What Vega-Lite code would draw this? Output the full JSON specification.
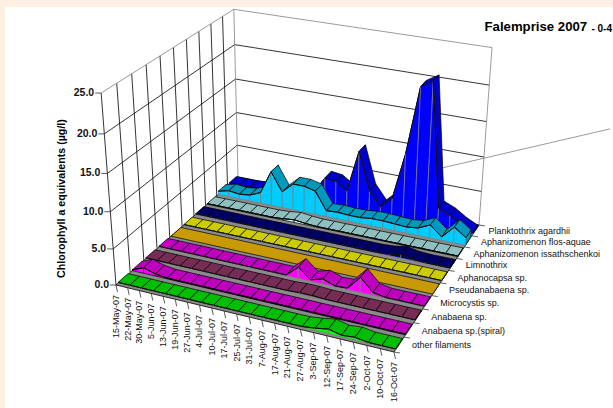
{
"$schema":"https://vega.github.io/schema/vega-lite/v6.json",
"width":608,"height":401,"autosize":{"type":"none"},"padding":{"left":5,"top":7,"right":0,"bottom":0},
"background":"#FDEFE2","view":{"fill":"#ffffff","stroke":null},
"title":{"text":"- 0-4","anchor":"end","frame":"group","offset":-27,"dx":-1,"font":"Liberation Sans","fontSize":10,"fontWeight":"bold","color":"#000000"},
"datasets":{
"rows":[
{"date":"15-May-07","idx":0,"slot":9,"value":0.3},{"date":"22-May-07","idx":1,"slot":9,"value":0.3},{"date":"30-May-07","idx":2,"slot":9,"value":0.3},{"date":"5-Jun-07","idx":3,"slot":9,"value":0.4},{"date":"13-Jun-07","idx":4,"slot":9,"value":0.4},{"date":"19-Jun-07","idx":5,"slot":9,"value":0.5},{"date":"27-Jun-07","idx":6,"slot":9,"value":0.5},{"date":"4-Jul-07","idx":7,"slot":9,"value":0.6},{"date":"10-Jul-07","idx":8,"slot":9,"value":1.5},{"date":"17-Jul-07","idx":9,"slot":9,"value":4.0},{"date":"25-Jul-07","idx":10,"slot":9,"value":3.8},{"date":"31-Jul-07","idx":11,"slot":9,"value":2.7},{"date":"7-Aug-07","idx":12,"slot":9,"value":8.9},{"date":"17-Aug-07","idx":13,"slot":9,"value":3.4},{"date":"21-Aug-07","idx":14,"slot":9,"value":1.3},{"date":"27-Aug-07","idx":15,"slot":9,"value":2.9},{"date":"3-Sep-07","idx":16,"slot":9,"value":9.8},{"date":"12-Sep-07","idx":17,"slot":9,"value":19.5},{"date":"17-Sep-07","idx":18,"slot":9,"value":20.5},{"date":"24-Sep-07","idx":19,"slot":9,"value":2.8},{"date":"2-Oct-07","idx":20,"slot":9,"value":2.1},{"date":"10-Oct-07","idx":21,"slot":9,"value":1.0},{"date":"16-Oct-07","idx":22,"slot":9,"value":0.2},
{"date":"15-May-07","idx":0,"slot":8,"value":0.5},{"date":"22-May-07","idx":1,"slot":8,"value":0.9},{"date":"30-May-07","idx":2,"slot":8,"value":0.7},{"date":"5-Jun-07","idx":3,"slot":8,"value":0.9},{"date":"13-Jun-07","idx":4,"slot":8,"value":1.6},{"date":"19-Jun-07","idx":5,"slot":8,"value":5.1},{"date":"27-Jun-07","idx":6,"slot":8,"value":2.4},{"date":"4-Jul-07","idx":7,"slot":8,"value":3.9},{"date":"10-Jul-07","idx":8,"slot":8,"value":3.9},{"date":"17-Jul-07","idx":9,"slot":8,"value":3.5},{"date":"25-Jul-07","idx":10,"slot":8,"value":0.9},{"date":"31-Jul-07","idx":11,"slot":8,"value":1.0},{"date":"7-Aug-07","idx":12,"slot":8,"value":0.9},{"date":"17-Aug-07","idx":13,"slot":8,"value":0.9},{"date":"21-Aug-07","idx":14,"slot":8,"value":1.1},{"date":"27-Aug-07","idx":15,"slot":8,"value":1.1},{"date":"3-Sep-07","idx":16,"slot":8,"value":1.0},{"date":"12-Sep-07","idx":17,"slot":8,"value":0.9},{"date":"17-Sep-07","idx":18,"slot":8,"value":1.1},{"date":"24-Sep-07","idx":19,"slot":8,"value":1.9},{"date":"2-Oct-07","idx":20,"slot":8,"value":0.5},{"date":"10-Oct-07","idx":21,"slot":8,"value":2.3},{"date":"16-Oct-07","idx":22,"slot":8,"value":1.1},
{"date":"15-May-07","idx":0,"slot":7,"value":0.1},{"date":"22-May-07","idx":1,"slot":7,"value":0.1},{"date":"30-May-07","idx":2,"slot":7,"value":0.1},{"date":"5-Jun-07","idx":3,"slot":7,"value":0.1},{"date":"13-Jun-07","idx":4,"slot":7,"value":0.1},{"date":"19-Jun-07","idx":5,"slot":7,"value":0.1},{"date":"27-Jun-07","idx":6,"slot":7,"value":0.1},{"date":"4-Jul-07","idx":7,"slot":7,"value":0.2},{"date":"10-Jul-07","idx":8,"slot":7,"value":0.4},{"date":"17-Jul-07","idx":9,"slot":7,"value":0.2},{"date":"25-Jul-07","idx":10,"slot":7,"value":0.1},{"date":"31-Jul-07","idx":11,"slot":7,"value":0.1},{"date":"7-Aug-07","idx":12,"slot":7,"value":0.1},{"date":"17-Aug-07","idx":13,"slot":7,"value":0.1},{"date":"21-Aug-07","idx":14,"slot":7,"value":0.1},{"date":"27-Aug-07","idx":15,"slot":7,"value":0.1},{"date":"3-Sep-07","idx":16,"slot":7,"value":0.1},{"date":"12-Sep-07","idx":17,"slot":7,"value":0.1},{"date":"17-Sep-07","idx":18,"slot":7,"value":0.1},{"date":"24-Sep-07","idx":19,"slot":7,"value":0.1},{"date":"2-Oct-07","idx":20,"slot":7,"value":0.1},{"date":"10-Oct-07","idx":21,"slot":7,"value":0.1},{"date":"16-Oct-07","idx":22,"slot":7,"value":0.1},
{"date":"15-May-07","idx":0,"slot":6,"value":0.1},{"date":"22-May-07","idx":1,"slot":6,"value":0.1},{"date":"30-May-07","idx":2,"slot":6,"value":0.1},{"date":"5-Jun-07","idx":3,"slot":6,"value":0.1},{"date":"13-Jun-07","idx":4,"slot":6,"value":0.1},{"date":"19-Jun-07","idx":5,"slot":6,"value":0.1},{"date":"27-Jun-07","idx":6,"slot":6,"value":0.1},{"date":"4-Jul-07","idx":7,"slot":6,"value":0.1},{"date":"10-Jul-07","idx":8,"slot":6,"value":0.1},{"date":"17-Jul-07","idx":9,"slot":6,"value":0.1},{"date":"25-Jul-07","idx":10,"slot":6,"value":0.1},{"date":"31-Jul-07","idx":11,"slot":6,"value":0.1},{"date":"7-Aug-07","idx":12,"slot":6,"value":0.1},{"date":"17-Aug-07","idx":13,"slot":6,"value":0.1},{"date":"21-Aug-07","idx":14,"slot":6,"value":0.1},{"date":"27-Aug-07","idx":15,"slot":6,"value":0.1},{"date":"3-Sep-07","idx":16,"slot":6,"value":0.1},{"date":"12-Sep-07","idx":17,"slot":6,"value":0.2},{"date":"17-Sep-07","idx":18,"slot":6,"value":0.5},{"date":"24-Sep-07","idx":19,"slot":6,"value":0.2},{"date":"2-Oct-07","idx":20,"slot":6,"value":0.1},{"date":"10-Oct-07","idx":21,"slot":6,"value":0.1},{"date":"16-Oct-07","idx":22,"slot":6,"value":0.1},
{"date":"15-May-07","idx":0,"slot":5,"value":0.05},{"date":"22-May-07","idx":1,"slot":5,"value":0.05},{"date":"30-May-07","idx":2,"slot":5,"value":0.05},{"date":"5-Jun-07","idx":3,"slot":5,"value":0.05},{"date":"13-Jun-07","idx":4,"slot":5,"value":0.05},{"date":"19-Jun-07","idx":5,"slot":5,"value":0.05},{"date":"27-Jun-07","idx":6,"slot":5,"value":0.05},{"date":"4-Jul-07","idx":7,"slot":5,"value":0.05},{"date":"10-Jul-07","idx":8,"slot":5,"value":0.05},{"date":"17-Jul-07","idx":9,"slot":5,"value":0.05},{"date":"25-Jul-07","idx":10,"slot":5,"value":0.05},{"date":"31-Jul-07","idx":11,"slot":5,"value":0.05},{"date":"7-Aug-07","idx":12,"slot":5,"value":0.05},{"date":"17-Aug-07","idx":13,"slot":5,"value":0.05},{"date":"21-Aug-07","idx":14,"slot":5,"value":0.05},{"date":"27-Aug-07","idx":15,"slot":5,"value":0.05},{"date":"3-Sep-07","idx":16,"slot":5,"value":0.05},{"date":"12-Sep-07","idx":17,"slot":5,"value":0.05},{"date":"17-Sep-07","idx":18,"slot":5,"value":0.05},{"date":"24-Sep-07","idx":19,"slot":5,"value":0.05},{"date":"2-Oct-07","idx":20,"slot":5,"value":0.05},{"date":"10-Oct-07","idx":21,"slot":5,"value":0.05},{"date":"16-Oct-07","idx":22,"slot":5,"value":0.05},
{"date":"15-May-07","idx":0,"slot":4,"value":0.02},{"date":"22-May-07","idx":1,"slot":4,"value":0.02},{"date":"30-May-07","idx":2,"slot":4,"value":0.02},{"date":"5-Jun-07","idx":3,"slot":4,"value":0.02},{"date":"13-Jun-07","idx":4,"slot":4,"value":0.02},{"date":"19-Jun-07","idx":5,"slot":4,"value":0.02},{"date":"27-Jun-07","idx":6,"slot":4,"value":0.02},{"date":"4-Jul-07","idx":7,"slot":4,"value":0.02},{"date":"10-Jul-07","idx":8,"slot":4,"value":0.02},{"date":"17-Jul-07","idx":9,"slot":4,"value":0.02},{"date":"25-Jul-07","idx":10,"slot":4,"value":0.02},{"date":"31-Jul-07","idx":11,"slot":4,"value":0.02},{"date":"7-Aug-07","idx":12,"slot":4,"value":0.02},{"date":"17-Aug-07","idx":13,"slot":4,"value":0.02},{"date":"21-Aug-07","idx":14,"slot":4,"value":0.02},{"date":"27-Aug-07","idx":15,"slot":4,"value":0.02},{"date":"3-Sep-07","idx":16,"slot":4,"value":0.02},{"date":"12-Sep-07","idx":17,"slot":4,"value":0.02},{"date":"17-Sep-07","idx":18,"slot":4,"value":0.02},{"date":"24-Sep-07","idx":19,"slot":4,"value":0.02},{"date":"2-Oct-07","idx":20,"slot":4,"value":0.02},{"date":"10-Oct-07","idx":21,"slot":4,"value":0.02},{"date":"16-Oct-07","idx":22,"slot":4,"value":0.02},
{"date":"15-May-07","idx":0,"slot":3,"value":0.1},{"date":"22-May-07","idx":1,"slot":3,"value":0.1},{"date":"30-May-07","idx":2,"slot":3,"value":0.1},{"date":"5-Jun-07","idx":3,"slot":3,"value":0.1},{"date":"13-Jun-07","idx":4,"slot":3,"value":0.1},{"date":"19-Jun-07","idx":5,"slot":3,"value":0.1},{"date":"27-Jun-07","idx":6,"slot":3,"value":0.1},{"date":"4-Jul-07","idx":7,"slot":3,"value":0.1},{"date":"10-Jul-07","idx":8,"slot":3,"value":0.1},{"date":"17-Jul-07","idx":9,"slot":3,"value":0.1},{"date":"25-Jul-07","idx":10,"slot":3,"value":0.1},{"date":"31-Jul-07","idx":11,"slot":3,"value":0.1},{"date":"7-Aug-07","idx":12,"slot":3,"value":1.6},{"date":"17-Aug-07","idx":13,"slot":3,"value":0.2},{"date":"21-Aug-07","idx":14,"slot":3,"value":0.7},{"date":"27-Aug-07","idx":15,"slot":3,"value":0.1},{"date":"3-Sep-07","idx":16,"slot":3,"value":0.2},{"date":"12-Sep-07","idx":17,"slot":3,"value":2.1},{"date":"17-Sep-07","idx":18,"slot":3,"value":0.4},{"date":"24-Sep-07","idx":19,"slot":3,"value":0.1},{"date":"2-Oct-07","idx":20,"slot":3,"value":0.1},{"date":"10-Oct-07","idx":21,"slot":3,"value":0.1},{"date":"16-Oct-07","idx":22,"slot":3,"value":0.1},
{"date":"15-May-07","idx":0,"slot":2,"value":0.1},{"date":"22-May-07","idx":1,"slot":2,"value":0.1},{"date":"30-May-07","idx":2,"slot":2,"value":0.1},{"date":"5-Jun-07","idx":3,"slot":2,"value":0.1},{"date":"13-Jun-07","idx":4,"slot":2,"value":0.1},{"date":"19-Jun-07","idx":5,"slot":2,"value":0.1},{"date":"27-Jun-07","idx":6,"slot":2,"value":0.1},{"date":"4-Jul-07","idx":7,"slot":2,"value":0.1},{"date":"10-Jul-07","idx":8,"slot":2,"value":0.1},{"date":"17-Jul-07","idx":9,"slot":2,"value":0.1},{"date":"25-Jul-07","idx":10,"slot":2,"value":0.1},{"date":"31-Jul-07","idx":11,"slot":2,"value":0.1},{"date":"7-Aug-07","idx":12,"slot":2,"value":0.1},{"date":"17-Aug-07","idx":13,"slot":2,"value":0.2},{"date":"21-Aug-07","idx":14,"slot":2,"value":0.2},{"date":"27-Aug-07","idx":15,"slot":2,"value":0.1},{"date":"3-Sep-07","idx":16,"slot":2,"value":0.1},{"date":"12-Sep-07","idx":17,"slot":2,"value":0.1},{"date":"17-Sep-07","idx":18,"slot":2,"value":0.1},{"date":"24-Sep-07","idx":19,"slot":2,"value":0.1},{"date":"2-Oct-07","idx":20,"slot":2,"value":0.1},{"date":"10-Oct-07","idx":21,"slot":2,"value":0.1},{"date":"16-Oct-07","idx":22,"slot":2,"value":0.1},
{"date":"15-May-07","idx":0,"slot":1,"value":0.1},{"date":"22-May-07","idx":1,"slot":1,"value":0.8},{"date":"30-May-07","idx":2,"slot":1,"value":0.3},{"date":"5-Jun-07","idx":3,"slot":1,"value":0.1},{"date":"13-Jun-07","idx":4,"slot":1,"value":0.1},{"date":"19-Jun-07","idx":5,"slot":1,"value":0.1},{"date":"27-Jun-07","idx":6,"slot":1,"value":0.1},{"date":"4-Jul-07","idx":7,"slot":1,"value":0.1},{"date":"10-Jul-07","idx":8,"slot":1,"value":0.1},{"date":"17-Jul-07","idx":9,"slot":1,"value":0.1},{"date":"25-Jul-07","idx":10,"slot":1,"value":0.1},{"date":"31-Jul-07","idx":11,"slot":1,"value":0.1},{"date":"7-Aug-07","idx":12,"slot":1,"value":0.1},{"date":"17-Aug-07","idx":13,"slot":1,"value":0.1},{"date":"21-Aug-07","idx":14,"slot":1,"value":0.1},{"date":"27-Aug-07","idx":15,"slot":1,"value":0.1},{"date":"3-Sep-07","idx":16,"slot":1,"value":0.1},{"date":"12-Sep-07","idx":17,"slot":1,"value":0.1},{"date":"17-Sep-07","idx":18,"slot":1,"value":0.1},{"date":"24-Sep-07","idx":19,"slot":1,"value":0.1},{"date":"2-Oct-07","idx":20,"slot":1,"value":0.1},{"date":"10-Oct-07","idx":21,"slot":1,"value":0.1},{"date":"16-Oct-07","idx":22,"slot":1,"value":0.1},
{"date":"15-May-07","idx":0,"slot":0,"value":0.1},{"date":"22-May-07","idx":1,"slot":0,"value":0.1},{"date":"30-May-07","idx":2,"slot":0,"value":0.1},{"date":"5-Jun-07","idx":3,"slot":0,"value":0.1},{"date":"13-Jun-07","idx":4,"slot":0,"value":0.1},{"date":"19-Jun-07","idx":5,"slot":0,"value":0.1},{"date":"27-Jun-07","idx":6,"slot":0,"value":0.1},{"date":"4-Jul-07","idx":7,"slot":0,"value":0.1},{"date":"10-Jul-07","idx":8,"slot":0,"value":0.1},{"date":"17-Jul-07","idx":9,"slot":0,"value":0.1},{"date":"25-Jul-07","idx":10,"slot":0,"value":0.1},{"date":"31-Jul-07","idx":11,"slot":0,"value":0.1},{"date":"7-Aug-07","idx":12,"slot":0,"value":0.1},{"date":"17-Aug-07","idx":13,"slot":0,"value":0.1},{"date":"21-Aug-07","idx":14,"slot":0,"value":0.1},{"date":"27-Aug-07","idx":15,"slot":0,"value":0.1},{"date":"3-Sep-07","idx":16,"slot":0,"value":0.3},{"date":"12-Sep-07","idx":17,"slot":0,"value":0.6},{"date":"17-Sep-07","idx":18,"slot":0,"value":0.2},{"date":"24-Sep-07","idx":19,"slot":0,"value":0.35},{"date":"2-Oct-07","idx":20,"slot":0,"value":0.1},{"date":"10-Oct-07","idx":21,"slot":0,"value":0.1},{"date":"16-Oct-07","idx":22,"slot":0,"value":0.1}
],
"frame":[
{"line":"leader","kind":"leader","ord":0,"U":0.842,"S":1,"V":7.3},{"line":"leader","kind":"leader","ord":1,"U":1.436,"S":1,"V":16.8},
{"line":"g5","kind":"grid","ord":0,"U":0,"S":0,"V":5},{"line":"g5","kind":"grid","ord":1,"U":0,"S":1,"V":5},{"line":"g5","kind":"grid","ord":2,"U":1,"S":1,"V":5},
{"line":"g10","kind":"grid","ord":0,"U":0,"S":0,"V":10},{"line":"g10","kind":"grid","ord":1,"U":0,"S":1,"V":10},{"line":"g10","kind":"grid","ord":2,"U":1,"S":1,"V":10},
{"line":"g15","kind":"grid","ord":0,"U":0,"S":0,"V":15},{"line":"g15","kind":"grid","ord":1,"U":0,"S":1,"V":15},{"line":"g15","kind":"grid","ord":2,"U":1,"S":1,"V":15},
{"line":"g20","kind":"grid","ord":0,"U":0,"S":0,"V":20},{"line":"g20","kind":"grid","ord":1,"U":0,"S":1,"V":20},{"line":"g20","kind":"grid","ord":2,"U":1,"S":1,"V":20},
{"line":"v0","kind":"grid","ord":0,"U":0,"S":0,"V":0},{"line":"v0","kind":"grid","ord":1,"U":0,"S":0,"V":25},
{"line":"v1","kind":"grid","ord":0,"U":0,"S":0.1,"V":0},{"line":"v1","kind":"grid","ord":1,"U":0,"S":0.1,"V":25},
{"line":"v2","kind":"grid","ord":0,"U":0,"S":0.2,"V":0},{"line":"v2","kind":"grid","ord":1,"U":0,"S":0.2,"V":25},
{"line":"v3","kind":"grid","ord":0,"U":0,"S":0.3,"V":0},{"line":"v3","kind":"grid","ord":1,"U":0,"S":0.3,"V":25},
{"line":"v4","kind":"grid","ord":0,"U":0,"S":0.4,"V":0},{"line":"v4","kind":"grid","ord":1,"U":0,"S":0.4,"V":25},
{"line":"v5","kind":"grid","ord":0,"U":0,"S":0.5,"V":0},{"line":"v5","kind":"grid","ord":1,"U":0,"S":0.5,"V":25},
{"line":"v6","kind":"grid","ord":0,"U":0,"S":0.6,"V":0},{"line":"v6","kind":"grid","ord":1,"U":0,"S":0.6,"V":25},
{"line":"v7","kind":"grid","ord":0,"U":0,"S":0.7,"V":0},{"line":"v7","kind":"grid","ord":1,"U":0,"S":0.7,"V":25},
{"line":"v8","kind":"grid","ord":0,"U":0,"S":0.8,"V":0},{"line":"v8","kind":"grid","ord":1,"U":0,"S":0.8,"V":25},
{"line":"v9","kind":"grid","ord":0,"U":0,"S":0.9,"V":0},{"line":"v9","kind":"grid","ord":1,"U":0,"S":0.9,"V":25},
{"line":"box","kind":"edge","ord":0,"U":0,"S":0,"V":25},{"line":"box","kind":"edge","ord":1,"U":0,"S":1,"V":25},{"line":"box","kind":"edge","ord":2,"U":1,"S":1,"V":25},{"line":"box","kind":"edge","ord":3,"U":1,"S":1,"V":0},
{"line":"back","kind":"edge","ord":0,"U":0,"S":1,"V":25},{"line":"back","kind":"edge","ord":1,"U":0,"S":1,"V":0}
],
"floor":[{"ord":0,"U":0,"S":0},{"ord":1,"U":1,"S":0},{"ord":2,"U":1,"S":1},{"ord":3,"U":0,"S":1},{"ord":4,"U":0,"S":0}],
"names":[{"series":"Planktothrix agardhii","slot":9},{"series":"Aphanizomenon flos-aquae","slot":8},{"series":"Aphanizomenon issathschenkoi","slot":7},{"series":"Limnothrix","slot":6},{"series":"Aphanocapsa sp.","slot":5},{"series":"Pseudanabaena sp.","slot":4},{"series":"Microcystis sp.","slot":3},{"series":"Anabaena sp.","slot":2},{"series":"Anabaena sp.(spiral)","slot":1},{"series":"other filaments","slot":0}],
"edges":[{"k":0},{"k":1},{"k":2},{"k":3},{"k":4},{"k":5},{"k":6},{"k":7},{"k":8},{"k":9},{"k":10}],
"levels":[{"level":0,"label":"0.0"},{"level":5,"label":"5.0"},{"level":10,"label":"10.0"},{"level":15,"label":"15.0"},{"level":20,"label":"20.0"},{"level":25,"label":"25.0"}]
},
"encoding":{
"x":{"field":"px","type":"quantitative","scale":{"domain":[5,613],"nice":false,"zero":false},"axis":{"orient":"top","title":"Falemprise 2007","titleX":479,"titleY":23,"titleAlign":"left","titleBaseline":"alphabetic","titleFont":"Liberation Sans","titleFontSize":13.2,"titleFontWeight":"bold","titleColor":"#000000","domain":false,"ticks":false,"labels":false,"grid":false}},
"y":{"field":"py","type":"quantitative","scale":{"domain":[408,7],"nice":false,"zero":false},"axis":{"title":"Chlorophyll a equivalents (µg/l)","titleX":56,"titleY":191,"titleAngle":270,"titleAlign":"center","titleBaseline":"middle","titleFont":"Liberation Sans","titleFontSize":10.7,"titleFontWeight":"bold","titleColor":"#000000","domain":false,"ticks":false,"labels":false,"grid":false}}
},
"layer":[
{"data":{"name":"frame"},
"transform":[
{"calculate":"1-0.08081*datum.U+0.18203*datum.S-0.0746*datum.V/25","as":"W"},
{"calculate":"(116+246.16*datum.U+165.32*datum.S-22.38*datum.V/25)/datum.W","as":"px"},
{"calculate":"(285+38.55*datum.U-75.78*datum.S-198.9*datum.V/25)/datum.W","as":"py"}],
"mark":{"type":"line","strokeWidth":0.8,"clip":false},
"encoding":{
"detail":{"field":"line"},"order":{"field":"ord"},
"stroke":{"field":"kind","scale":{"domain":["grid","edge","leader"],"range":["#000000","#808080","#808080"]},"legend":null}}},
{"data":{"name":"floor"},
"transform":[
{"calculate":"1-0.08081*datum.U+0.18203*datum.S","as":"W"},
{"calculate":"(116+246.16*datum.U+165.32*datum.S)/datum.W","as":"px"},
{"calculate":"(285+38.55*datum.U-75.78*datum.S)/datum.W","as":"py"}],
"mark":{"type":"line","fill":"#8a8a8a","stroke":"#000000","strokeWidth":0.8,"clip":false},
"encoding":{"order":{"field":"ord"}}},
{"data":{"name":"rows"},
"transform":[
{"window":[{"op":"lead","field":"value","as":"next"}],"sort":[{"field":"idx","order":"ascending"}],"groupby":["slot"]},
{"filter":"datum.idx<22"},
{"calculate":"datum.idx==21?['top','cap','front','edge']:['top','front','edge']","as":"face"},
{"flatten":["face"]},
{"filter":"datum.slot!=4||(datum.idx==0&&datum.face=='top')"},
{"calculate":"[0,1,2,3,4]","as":"vert"},
{"flatten":["vert"]},
{"calculate":"datum.slot+'-'+datum.idx+'-'+datum.face","as":"poly"},
{"calculate":"datum.slot==4?((datum.vert==1||datum.vert==2)?1:0):(datum.face=='cap'?(datum.idx+1)/22:(datum.idx+((datum.vert==1||datum.vert==2)?1:0))/22)","as":"U"},
{"calculate":"(datum.face=='top'?(datum.vert==2||datum.vert==3):(datum.face=='cap'?(datum.vert==1||datum.vert==2):false))?(datum.slot+(datum.slot==4?0.9:0.85))/10:(datum.slot+(datum.slot==4?0.1:0.15))/10","as":"S"},
{"calculate":"datum.face=='top'?((datum.vert==1||datum.vert==2)?datum.next:datum.value):(datum.face=='edge'?((datum.vert==1||datum.vert==2)?datum.next:datum.value):(datum.face=='front'?(datum.vert==2?datum.next:(datum.vert==3?datum.value:0)):((datum.vert==2||datum.vert==3)?datum.next:0)))","as":"V"},
{"calculate":"1-0.08081*datum.U+0.18203*datum.S-0.0746*datum.V/25","as":"W"},
{"calculate":"(116+246.16*datum.U+165.32*datum.S-22.38*datum.V/25)/datum.W","as":"px"},
{"calculate":"(285+38.55*datum.U-75.78*datum.S-198.9*datum.V/25)/datum.W","as":"py"},
{"calculate":"datum.slot+((datum.face=='front')?'f':(datum.face=='edge'?'e':'t'))","as":"swatch"},
{"calculate":"(datum.face=='front'||datum.slot==4)?datum.swatch:'line'","as":"outline"}],
"mark":{"type":"line","strokeWidth":0.7,"clip":false},
"encoding":{"detail":{"field":"poly"},"order":{"field":"vert"},
"fill":{"field":"swatch","scale":{"domain":["9t","9f","8t","8f","7t","7f","6t","6f","5t","5f","4t","3t","3f","2t","2f","1t","1f","0t","0f","9e","8e","7e","6e","5e","3e","2e","1e","0e"],"range":["#0000CC","#0000FF","#0099BB","#00CCFF","#8FBFBF","#CCFFFF","#000066","#000080","#CCCC00","#FFFF00","#C89A06","#BF00BF","#FF00FF","#772C55","#993366","#BF00BF","#FF00FF","#00BF00","#00FF00","#000000","#000000","#000000","#000000","#000000","#000000","#000000","#000000","#000000"]},"legend":null},
"stroke":{"field":"outline","scale":{"domain":["line","9f","8f","7f","6f","5f","4t","3f","2f","1f","0f"],"range":["#000000","#0000FF","#00CCFF","#CCFFFF","#000080","#FFFF00","#C89A06","#FF00FF","#993366","#FF00FF","#00FF00"]},"legend":null}}},
{"data":{"name":"rows"},
"transform":[{"filter":"datum.slot==0"},
{"calculate":"datum.idx/22","as":"U"},
{"calculate":"1-0.08081*datum.U","as":"W"},
{"calculate":"(116+246.16*datum.U)/datum.W","as":"px"},
{"calculate":"(285+38.55*datum.U)/datum.W","as":"py"},
{"calculate":"datum.px+1.5","as":"qx"},{"calculate":"datum.py+7","as":"qy"}],
"mark":{"type":"rule","stroke":"#333333","strokeWidth":0.8},
"encoding":{"x2":{"field":"qx"},"y2":{"field":"qy"}}},
{"data":{"name":"rows"},
"transform":[{"filter":"datum.slot==0"},
{"calculate":"datum.idx/22","as":"U"},
{"calculate":"1-0.08081*datum.U","as":"W"},
{"calculate":"(116+246.16*datum.U)/datum.W","as":"px"},
{"calculate":"(285+38.55*datum.U)/datum.W+10","as":"py"}],
"mark":{"type":"text","font":"Liberation Sans","fontSize":9,"angle":270,"align":"right","baseline":"middle","color":"#111111"},
"encoding":{"text":{"field":"date"}}},
{"data":{"name":"edges"},
"transform":[
{"calculate":"datum.k/10","as":"S"},
{"calculate":"1-0.08081+0.18203*datum.S","as":"W"},
{"calculate":"(362.16+165.32*datum.S)/datum.W","as":"px"},
{"calculate":"(323.55-75.78*datum.S)/datum.W","as":"py"},
{"calculate":"datum.px+6","as":"qx"},{"calculate":"datum.py+1","as":"qy"}],
"mark":{"type":"rule","stroke":"#333333","strokeWidth":0.8},
"encoding":{"x2":{"field":"qx"},"y2":{"field":"qy"}}},
{"data":{"name":"names"},
"transform":[
{"calculate":"(datum.slot+0.5)/10","as":"S"},
{"calculate":"1-0.08081+0.18203*datum.S","as":"W"},
{"calculate":"(362.16+165.32*datum.S)/datum.W+13","as":"px"},
{"calculate":"(323.55-75.78*datum.S)/datum.W+1","as":"py"}],
"mark":{"type":"text","font":"Liberation Sans","fontSize":9,"align":"left","baseline":"middle","color":"#111111"},
"encoding":{"text":{"field":"series"}}},
{"data":{"name":"levels"},
"transform":[
{"calculate":"1-0.0746*datum.level/25","as":"W"},
{"calculate":"(116-22.38*datum.level/25)/datum.W","as":"px"},
{"calculate":"(285-198.9*datum.level/25)/datum.W","as":"py"},
{"calculate":"datum.px-6","as":"qx"},{"calculate":"datum.py","as":"qy"}],
"mark":{"type":"rule","stroke":"#333333","strokeWidth":0.8},
"encoding":{"x2":{"field":"qx"},"y2":{"field":"qy"}}},
{"data":{"name":"levels"},
"transform":[
{"calculate":"1-0.0746*datum.level/25","as":"W"},
{"calculate":"(116-22.38*datum.level/25)/datum.W-7","as":"px"},
{"calculate":"(285-198.9*datum.level/25)/datum.W","as":"py"}],
"mark":{"type":"text","font":"Liberation Sans","fontSize":10.5,"fontWeight":"bold","align":"right","baseline":"middle","color":"#111111"},
"encoding":{"text":{"field":"label"}}}
]
}
